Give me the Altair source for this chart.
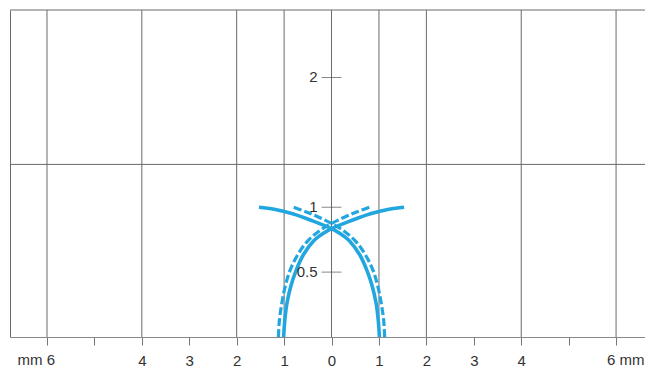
import altair as alt
import pandas as pd

BLUE = "#22a6e0"
GRID = "#6a6a6a"
FONT = "Liberation Sans"

# gridlines (mm) and reference levels
grid_x = [-6, -4, -2, -1, 0, 1, 2, 4, 6]
grid_y = [1.33]
x_ticks = [-6, -5, -4, -3, -2, -1, 0, 1, 2, 3, 4, 5, 6]
y_ticks = [0.5, 1.0, 2.0]
y_labels = ["0.5", "1", "2"]
y_axis_pos = [0, 0, 0]
mm_labels = ["mm 6", "6 mm"]
mm_x = [-6, 6]

# solid curves
solid_a_x = [-1.01, -0.985, -0.94, -0.86, -0.75, -0.60, -0.38, -0.17, 0.0, 0.40, 0.82, 1.21, 1.53]
solid_a_y = [0.0, 0.13, 0.26, 0.39, 0.51, 0.63, 0.74, 0.80, 0.835, 0.895, 0.95, 0.985, 1.0]
solid_b_x = [1.01, 0.985, 0.94, 0.86, 0.75, 0.60, 0.38, 0.17, 0.0, -0.40, -0.82, -1.21, -1.53]
solid_b_y = [0.0, 0.13, 0.26, 0.39, 0.51, 0.63, 0.74, 0.80, 0.835, 0.895, 0.95, 0.985, 1.0]

# dashed curves
dash_a_x = [-1.12, -1.10, -1.05, -0.98, -0.875, -0.70, -0.49, -0.24, 0.0, 0.28, 0.56, 0.84]
dash_a_y = [0.0, 0.127, 0.256, 0.384, 0.513, 0.642, 0.745, 0.822, 0.875, 0.925, 0.968, 1.005]
dash_b_x = [1.12, 1.10, 1.05, 0.98, 0.875, 0.70, 0.49, 0.24, 0.0, -0.28, -0.56, -0.84]
dash_b_y = [0.0, 0.127, 0.256, 0.384, 0.513, 0.642, 0.745, 0.822, 0.875, 0.925, 0.968, 1.005]

W, H = 635, 327
xscale = alt.Scale(domain=[-6.78, 6.61], nice=False, zero=False)
yscale = alt.Scale(domain=[0, 2.52], nice=False, zero=False)


def curve_df(xs, ys, name):
    return pd.DataFrame({"x": xs, "y": ys, "curve": name, "order": list(range(len(xs)))})


solid_df = pd.concat([curve_df(solid_a_x, solid_a_y, "a"), curve_df(solid_b_x, solid_b_y, "b")])
dash_df = pd.concat([curve_df(dash_a_x, dash_a_y, "a"), curve_df(dash_b_x, dash_b_y, "b")])

x_axis = alt.Axis(
    values=x_ticks,
    labelExpr="abs(datum.value) >= 5 ? '' : format(abs(datum.value), 'd')",
    tickSize=8, tickColor="#777", tickWidth=1,
    domainColor="#888", domainWidth=1,
    labelFontSize=15, labelColor="#333", labelFont=FONT, labelPadding=8,
    labelFlush=False, labelOverlap=False, grid=False, title=None,
)
y_axis = alt.Axis(domain=True, domainColor=GRID, domainWidth=1, ticks=False,
                  labels=False, grid=False, title=None)


def X(field):
    return alt.X(field, scale=xscale, axis=x_axis)


def Y(field):
    return alt.Y(field, scale=yscale, axis=y_axis)


vgrid = alt.Chart(pd.DataFrame({"gx": grid_x})).mark_rule(
    color=GRID, strokeWidth=1
).encode(x=X("gx:Q"))
hgrid = alt.Chart(pd.DataFrame({"gy": grid_y})).mark_rule(color=GRID, strokeWidth=1).encode(
    y=Y("gy:Q")
)
top_border = alt.Chart(pd.DataFrame({"gy": grid_y})).mark_rule(color=GRID, strokeWidth=1).encode(
    y=alt.value(0), x=alt.value(0), x2=alt.value(W)
)

solid = alt.Chart(solid_df).mark_line(
    color=BLUE, strokeWidth=3.6, interpolate="catmull-rom"
).encode(
    x=X("x:Q"), y=Y("y:Q"), detail="curve:N", order="order:Q",
)
dashed = alt.Chart(dash_df).mark_line(
    color=BLUE, strokeWidth=3.2, strokeDash=[8, 3], interpolate="catmull-rom"
).encode(
    x=X("x:Q"), y=Y("y:Q"), detail="curve:N", order="order:Q",
)

ydf = pd.DataFrame({"xp": y_axis_pos, "yv": y_ticks, "lab": y_labels})
yticks = alt.Chart(ydf).mark_tick(orient="horizontal", size=20, thickness=1, color="#555").encode(
    x=X("xp:Q"), y=Y("yv:Q"),
)
ytext = alt.Chart(ydf).mark_text(
    align="right", baseline="middle", dx=-14, fontSize=15, font=FONT, color="#333"
).encode(
    x=X("xp:Q"), y=Y("yv:Q"), text="lab:N",
)

mmdf = pd.DataFrame({"mx": mm_x, "my": [0, 0], "lab": mm_labels})
mm_left = alt.Chart(mmdf[mmdf["mx"] < 0]).mark_text(
    align="right", baseline="top", dx=8, dy=16, fontSize=15, font=FONT, color="#333"
).encode(
    x=X("mx:Q"), y=Y("my:Q"), text="lab:N",
)
mm_right = alt.Chart(mmdf[mmdf["mx"] > 0]).mark_text(
    align="left", baseline="top", dx=-9, dy=16, fontSize=15, font=FONT, color="#333"
).encode(
    x=X("mx:Q"), y=Y("my:Q"), text="lab:N",
)

chart = alt.layer(
    vgrid, hgrid, top_border, dashed, solid, yticks, ytext, mm_left, mm_right
).properties(
    width=W, height=H,
    autosize=alt.AutoSizeParams(type="none"),
    padding={"left": 2, "top": 2, "right": 0, "bottom": 32},
).configure_view(strokeWidth=0)

chart.save("out.html", embed_options={"renderer": "svg", "actions": False})
